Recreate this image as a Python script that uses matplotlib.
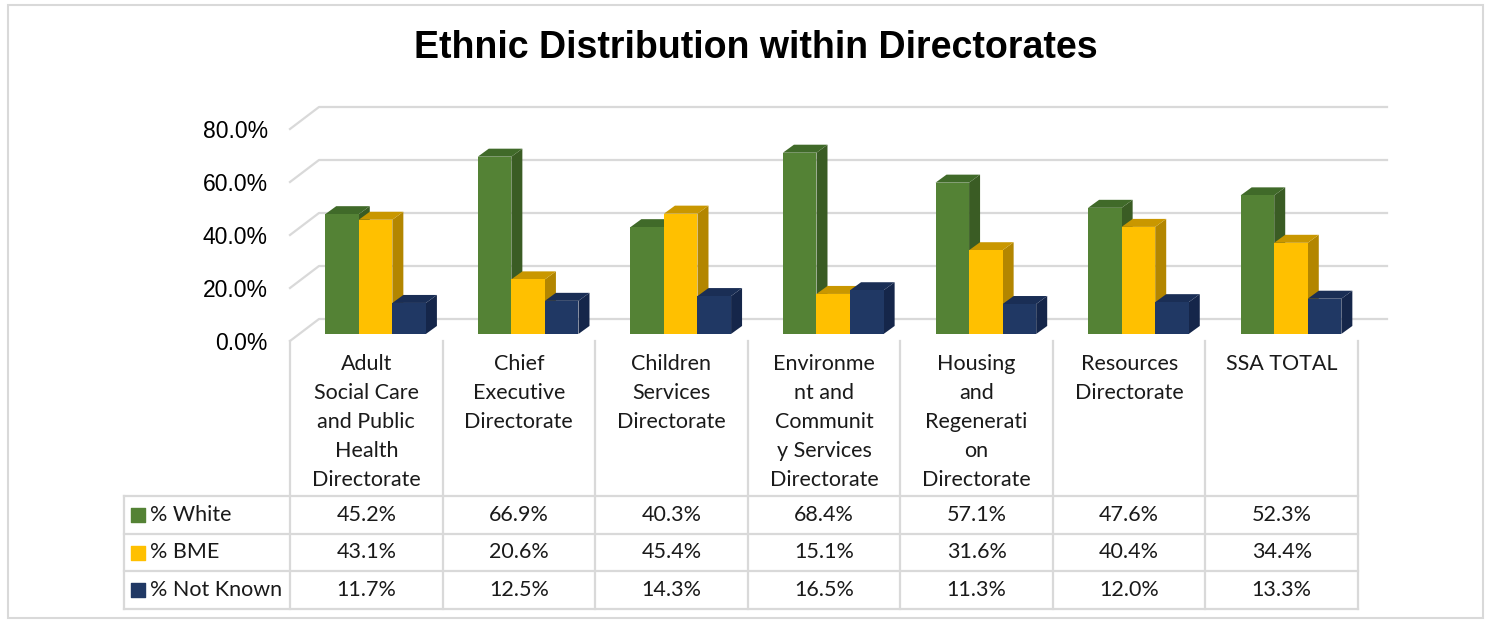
import numpy as np
import matplotlib.pyplot as plt
from matplotlib.patches import Polygon, Rectangle

# directorate labels, wrapped the way they show in the data table
directorates = [
    "Adult\nSocial Care\nand Public\nHealth\nDirectorate",
    "Chief\nExecutive\nDirectorate",
    "Children\nServices\nDirectorate",
    "Environme\nnt and\nCommunit\ny Services\nDirectorate",
    "Housing\nand\nRegenerati\non\nDirectorate",
    "Resources\nDirectorate",
    "SSA TOTAL",
]
white = [45.2, 66.9, 40.3, 68.4, 57.1, 47.6, 52.3]
bme = [43.1, 20.6, 45.4, 15.1, 31.6, 40.4, 34.4]
not_known = [11.7, 12.5, 14.3, 16.5, 11.3, 12.0, 13.3]
series_names = ["% White", "% BME", "% Not Known"]
y_ticks = [0, 20, 40, 60, 80]

# face / side / top shades for the 3d look
colours = [
    ("#548235", "#3a5c24", "#406a29"),
    ("#ffc000", "#b38600", "#c99700"),
    ("#203864", "#15264a", "#1a2e55"),
]
GRID = "#d9d9d9"

W, H = 1491, 624
fig = plt.figure(figsize=(W / 100, H / 100), dpi=100)


def px_box(x0, y0, x1, y1):
    # pixel box (origin top-left) -> figure fraction rect
    return [x0 / W, 1 - y1 / H, (x1 - x0) / W, (y1 - y0) / H]


# outer chart border
fig.patches.append(Rectangle((8 / W, 1 - 618 / H), 1475 / W, 613 / H,
                             transform=fig.transFigure, fill=False,
                             edgecolor=GRID, lw=1.5))

fig.text(756 / W, 1 - 48 / H, "Ethnic Distribution within Directorates",
         ha="center", va="center", fontsize=27, fontweight="bold",
         family="Liberation Sans")

n = len(directorates)
px_x = (1358 - 290) / n      # pixels per category
px_y = 2.65                  # pixels per percent

ax = fig.add_axes(px_box(290, 80, 1358, 341))
ax.set_xlim(0, n)
ax.set_ylim(0, (341 - 80) / px_y)
for s in ax.spines.values():
    s.set_visible(False)
ax.set_xticks([])
ax.set_yticks(y_ticks)
ax.set_yticklabels([f"{v:.1f}%" for v in y_ticks], family="Liberation Sans",
                   fontsize=16.5)
ax.tick_params(axis="y", length=0, pad=16)

# back wall offset and bar depth (data units)
back_dx = 29 / px_x
back_dy = 22 / px_y
bar_dx = 11 / px_x
bar_dy = 8 / px_y
f = 0.32                     # bars sit a third of the way into the floor
bw = 0.22

# gridlines: short slant on the left then along the back wall
for v in y_ticks:
    ax.plot([0, back_dx, n + back_dx], [v, v + back_dy, v + back_dy],
            color=GRID, lw=1.6, zorder=1, clip_on=False)

base = f * back_dy
for j, vals in enumerate([white, bme, not_known]):
    face, side, top = colours[j]
    xs = np.arange(n) + 0.5 + (j - 1) * bw + f * back_dx
    ax.bar(xs, vals, width=bw, bottom=base, color=face, zorder=3,
           clip_on=False)
    for x, v in zip(xs, vals):
        x0, x1 = x - bw / 2, x + bw / 2
        y1 = base + v
        ax.add_patch(Polygon([(x1, base), (x1 + bar_dx, base + bar_dy),
                              (x1 + bar_dx, y1 + bar_dy), (x1, y1)],
                             closed=True, facecolor=side, zorder=2,
                             clip_on=False))
        ax.add_patch(Polygon([(x0, y1), (x1, y1), (x1 + bar_dx, y1 + bar_dy),
                              (x0 + bar_dx, y1 + bar_dy)],
                             closed=True, facecolor=top, zorder=2,
                             clip_on=False))

# data table under the chart
tx0 = (124 - 290) / px_x
row_h = (609 - 496) / 3
cat_h = (496 - 341) / row_h
tab = fig.add_axes(px_box(124, 341, 1358, 609))
tab.set_xlim(tx0, n)
tab.set_ylim(0, 3 + cat_h)
tab.axis("off")

for r in range(4):
    tab.plot([tx0, n], [r, r], color=GRID, lw=1.6, clip_on=False)
tab.plot([tx0, tx0], [0, 3], color=GRID, lw=1.6, clip_on=False)
for c in range(n + 1):
    tab.plot([c, c], [0, 3 + cat_h], color=GRID, lw=1.6, clip_on=False)

cell_font = dict(family="Lato", fontsize=15.5, color="#1a1a1a")
for c, name in enumerate(directorates):
    tab.text(c + 0.5, 3 + cat_h - 13 / row_h, name, ha="center", va="top",
             linespacing=1.56, **cell_font)

key_x = tx0 + 14 / px_x
for j, (label, vals) in enumerate(zip(series_names, [white, bme, not_known])):
    yc = 2.5 - j
    tab.scatter([key_x], [yc], marker="s", s=90, color=colours[j][0],
                clip_on=False)
    tab.text(tx0 + 26 / px_x, yc, label, ha="left", va="center", **cell_font)
    for c, v in enumerate(vals):
        tab.text(c + 0.5, yc, f"{v:.1f}%", ha="center", va="center",
                 **cell_font)

plt.savefig("out.png", dpi=100)
